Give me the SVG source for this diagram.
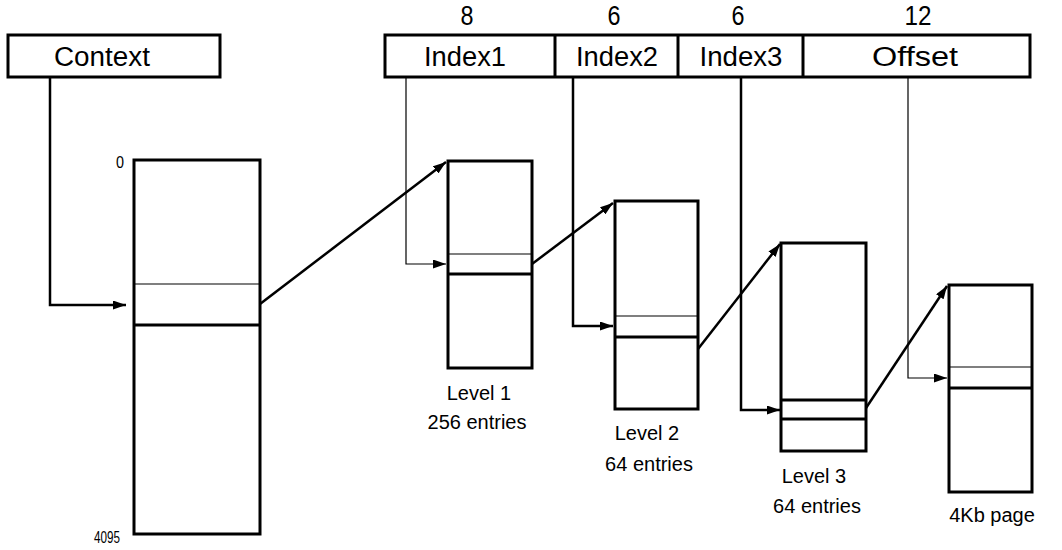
<svg xmlns="http://www.w3.org/2000/svg" width="1062" height="550" viewBox="0 0 1062 550">
<style>
.box{fill:#fff;stroke:#000;stroke-width:3}
.thin{stroke:#000;stroke-width:1.2;fill:none}
.thick{stroke:#000;stroke-width:3;fill:none}
.conn{stroke:#000;fill:none;stroke-width:2.5}
.conn1{stroke:#000;fill:none;stroke-width:1.2}
.big{font-family:"Liberation Sans",Arial,sans-serif;font-size:27px;text-anchor:middle;fill:#000}
.lbl{font-family:"Liberation Sans",Arial,sans-serif;font-size:20px;text-anchor:middle;fill:#000}
.sm{font-family:"Liberation Sans",Arial,sans-serif;font-size:17px;text-anchor:end;fill:#000}
</style>
<defs>
<marker id="ah" viewBox="0 0 13 9" refX="13" refY="4.5" markerWidth="13" markerHeight="9" markerUnits="userSpaceOnUse" orient="auto">
<path d="M0,0 L13,4.5 L0,9 Z" fill="#000"/>
</marker>
</defs>
<g id="context">
<rect class="box" x="8" y="35" width="212" height="42"/>
<text class="big" x="102" y="66" textLength="96" lengthAdjust="spacingAndGlyphs">Context</text>
</g>
<g id="address">
<rect class="box" x="385" y="35" width="645" height="42"/>
<line class="thick" x1="555" y1="35" x2="555" y2="77"/>
<line class="thick" x1="678" y1="35" x2="678" y2="77"/>
<line class="thick" x1="803" y1="35" x2="803" y2="77"/>
<text class="big" x="465" y="66" textLength="82" lengthAdjust="spacingAndGlyphs">Index1</text>
<text class="big" x="617" y="66" textLength="82" lengthAdjust="spacingAndGlyphs">Index2</text>
<text class="big" x="741" y="66" textLength="83" lengthAdjust="spacingAndGlyphs">Index3</text>
<text class="big" x="915" y="66" textLength="86" lengthAdjust="spacingAndGlyphs">Offset</text>
<text class="big" x="467" y="25" textLength="13" lengthAdjust="spacingAndGlyphs">8</text>
<text class="big" x="614" y="25" textLength="13" lengthAdjust="spacingAndGlyphs">6</text>
<text class="big" x="738" y="25" textLength="13" lengthAdjust="spacingAndGlyphs">6</text>
<text class="big" x="918" y="25" textLength="27" lengthAdjust="spacingAndGlyphs">12</text>
</g>
<g id="root-table">
<rect class="box" x="134" y="160" width="126" height="374"/>
<line class="thin" x1="134" y1="284" x2="260" y2="284"/>
<line class="thick" x1="134" y1="325" x2="260" y2="325"/>
<text class="sm" x="124" y="168" textLength="8" lengthAdjust="spacingAndGlyphs">0</text>
<text class="sm" x="120" y="543" textLength="26" lengthAdjust="spacingAndGlyphs">4095</text>
</g>
<g id="level1">
<rect class="box" x="448" y="161" width="84" height="207"/>
<line class="thin" x1="448" y1="254" x2="532" y2="254"/>
<line class="thick" x1="448" y1="274" x2="532" y2="274"/>
<text class="lbl" x="479" y="400">Level 1</text>
<text class="lbl" x="477" y="429">256 entries</text>
</g>
<g id="level2">
<rect class="box" x="615" y="201" width="83" height="208"/>
<line class="thin" x1="615" y1="316" x2="698" y2="316"/>
<line class="thick" x1="615" y1="337" x2="698" y2="337"/>
<text class="lbl" x="647" y="440">Level 2</text>
<text class="lbl" x="649" y="471">64 entries</text>
</g>
<g id="level3">
<rect class="box" x="781" y="243" width="85" height="208"/>
<line class="thick" x1="781" y1="400" x2="866" y2="400"/>
<line class="thick" x1="781" y1="419" x2="866" y2="419"/>
<text class="lbl" x="814" y="483">Level 3</text>
<text class="lbl" x="817" y="513">64 entries</text>
</g>
<g id="page">
<rect class="box" x="949" y="285" width="83" height="207"/>
<line class="thin" x1="949" y1="367" x2="1032" y2="367"/>
<line class="thick" x1="949" y1="388" x2="1032" y2="388"/>
<text class="lbl" x="992" y="522">4Kb page</text>
</g>
<g id="connectors">
<path class="conn" d="M50,77 V305 H126" marker-end="url(#ah)"/>
<path class="conn" d="M260,304 L446,162" marker-end="url(#ah)"/>
<path class="conn1" d="M406,77 V264 H446" marker-end="url(#ah)"/>
<path class="conn" d="M532,264 L613,203" marker-end="url(#ah)"/>
<path class="conn" d="M573,77 V326 H613" marker-end="url(#ah)"/>
<path class="conn" d="M698,349 L780,244" marker-end="url(#ah)"/>
<path class="conn" d="M741,77 V410 H780" marker-end="url(#ah)"/>
<path class="conn" d="M866,408 L947,286" marker-end="url(#ah)"/>
<path class="conn1" d="M908,77 V378 H947" marker-end="url(#ah)"/>
</g>
</svg>
